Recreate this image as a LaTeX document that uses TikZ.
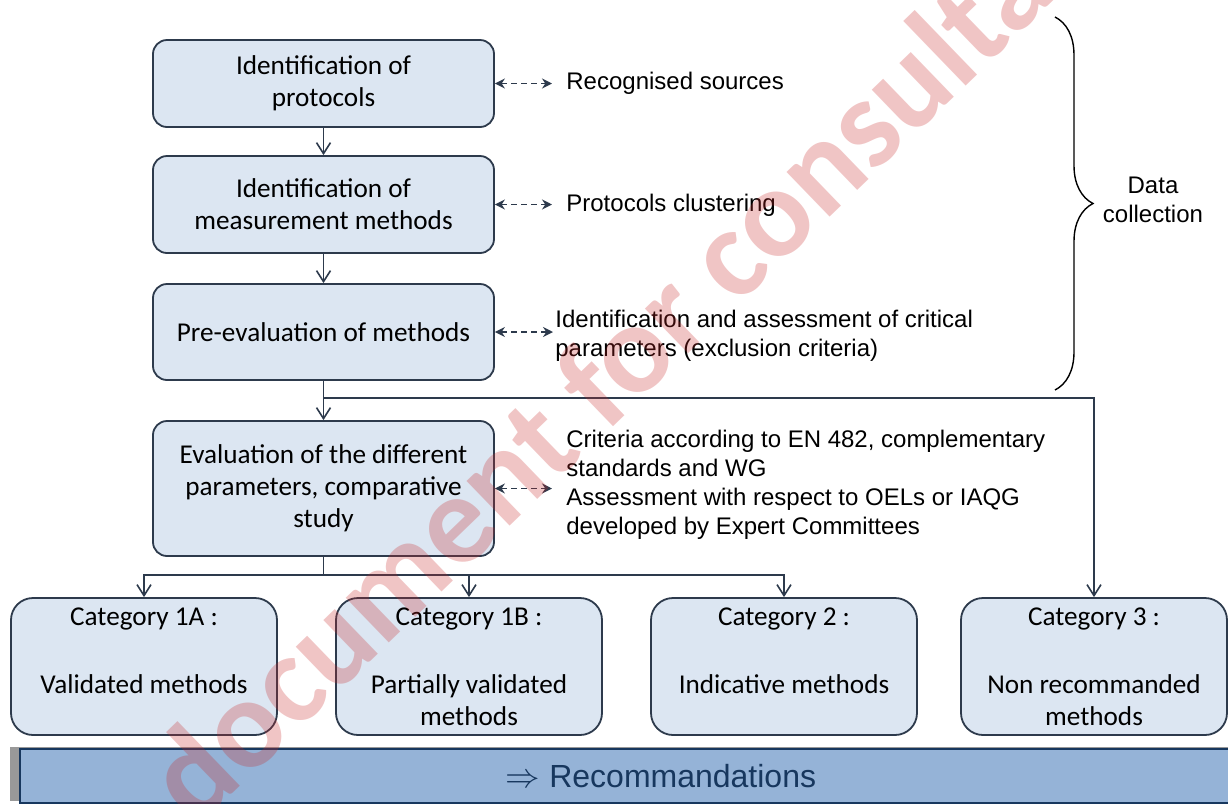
\documentclass[tikz,border=0pt]{standalone}
\usepackage{fontspec}
\setmainfont{Carlito}
\newfontfamily\arialfont{Liberation Sans}
\usetikzlibrary{arrows.meta,decorations.pathreplacing,shadows}
\definecolor{boxfill}{RGB}{220,230,242}
\definecolor{boxline}{RGB}{45,58,76}
\definecolor{barfill}{RGB}{149,179,215}
\definecolor{barline}{RGB}{23,55,94}
\definecolor{markred}{RGB}{200,40,40}

\begin{document}
\begin{tikzpicture}[x=0.5pt, y=-0.5pt,
	stepbox/.style={draw=boxline, line width=0.9pt, fill=boxfill, rounded corners=7pt, minimum width=170.5pt, align=center, inner sep=0pt, font=\fontsize{13.6}{16}\selectfont},
	catbox/.style={stepbox, rounded corners=11pt, minimum width=133pt, minimum height=68.5pt},
	note/.style={anchor=west, align=left, inner sep=0pt, font=\arialfont\fontsize{12}{14.5}\selectfont},
	conn/.style={draw=boxline, line width=0.8pt, -{Straight Barb[length=5.5pt,width=7pt]}},
	plain/.style={draw=boxline, line width=0.8pt},
	dasharrow/.style={draw=boxline, line width=0.8pt, dash pattern=on 3pt off 2pt, {Stealth[length=5pt,width=5pt]}-{Stealth[length=5pt,width=5pt]}}]
	\useasboundingbox (0,0) rectangle (1228,804);
	\clip (0,0) rectangle (1228,804);
	% steps on the left
	\node[stepbox, minimum height=43.5pt] (ident) at (323.5,83.5) {Identification of\\protocols};
	\node[stepbox, minimum height=48.5pt] (measure) at (323.5,204.5) {Identification of\\measurement methods};
	\node[stepbox, minimum height=48pt] (pre) at (323.5,332) {Pre-evaluation of methods};
	\node[stepbox, minimum height=67.5pt] (eval) at (323.5,488.5) {Evaluation of the different\\parameters, comparative\\study};
	% notes on the right
	\node[note] (src) at (566,83) {Recognised sources};
	\node[note] (clust) at (566,205) {Protocols clustering};
	\node[note] (crit) at (555,336) {Identification and assessment of critical\\parameters (exclusion criteria)};
	\node[note] (crit2) at (566,485) {Criteria according to EN 482, complementary\\standards and WG\\Assessment with respect to OELs or IAQG\\developed by Expert Committees};
	\draw[dasharrow] (ident.east) -- ([xshift=-7pt]ident.east -| src.west);
	\draw[dasharrow] (measure.east) -- ([xshift=-7pt]measure.east -| clust.west);
	\draw[dasharrow] (pre.east) -- ([xshift=-1pt]pre.east -| crit.west);
	\draw[dasharrow] (eval.east) -- ([xshift=-7pt]eval.east -| crit2.west);
	% brace
	\draw[black, line width=0.7pt, decorate, decoration={brace, amplitude=19pt}] (1055,17) -- (1055,390);
	\node[note, anchor=center, align=center] (datalbl) at (1153,200) {Data\\collection};
	% categories
	\node[catbox] (cat1a) at (144,666.5) {Category 1A :\\[18pt]Validated methods\\\phantom{methods}};
	\node[catbox] (cat1b) at (469,666.5) {Category 1B :\\[18pt]Partially validated\\methods};
	\node[catbox] (cat2) at (784,666.5) {Category 2 :\\[18pt]Indicative methods\\\phantom{methods}};
	\node[catbox] (cat3) at (1094,666.5) {Category 3 :\\[18pt]Non recommanded\\methods};
	% connectors
	\draw[conn] (ident) -- (measure);
	\draw[conn] (measure) -- (pre);
	\coordinate (split1) at (323.5,398);
	\draw[plain] (pre) -- (split1);
	\draw[conn] (split1) -- (eval);
	\draw[conn] (split1) -| (cat3);
	\coordinate (split2) at (323.5,575);
	\draw[plain] (eval) -- (split2);
	\draw[conn] (split2) -| (cat1a);
	\draw[conn] (split2) -| (cat1b);
	\draw[conn] (split2) -| (cat2);
	% bottom bar
	\node[draw=barline, line width=0.8pt, fill=barfill, general shadow={fill=black!40, shadow xshift=-5pt, shadow yshift=1pt}, minimum width=641pt, minimum height=27pt, inner sep=0pt, text=barline, font=\arialfont\fontsize{16}{18}\selectfont] (recom) at (661,776) {$\Rightarrow$ Recommandations};
	% watermark
	\node[rotate=44, text=markred, opacity=0.27, inner sep=0pt, font=\bfseries\fontsize{64}{64}\selectfont] (mark) at (673,307) {document for consultation};
\end{tikzpicture}
\end{document}
